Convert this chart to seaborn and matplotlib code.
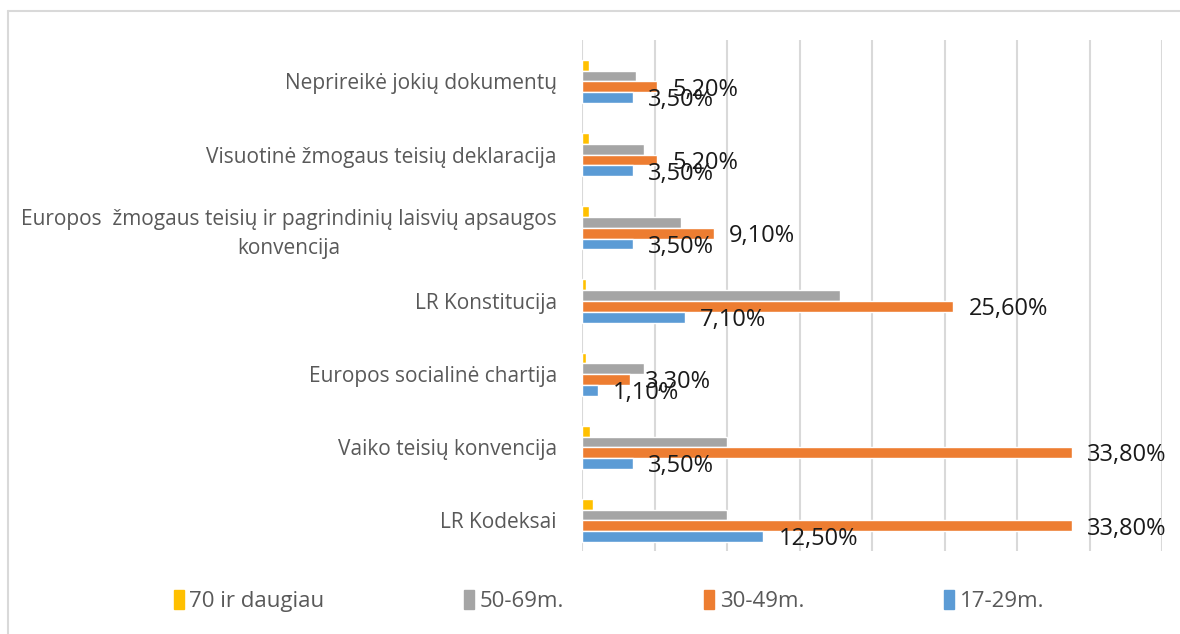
import pandas as pd
import numpy as np
import seaborn as sns
import matplotlib.pyplot as plt
from matplotlib.lines import Line2D

categories = [
    "Neprireikė jokių dokumentų",
    "Visuotinė žmogaus teisių deklaracija",
    "Europos  žmogaus teisių ir pagrindinių laisvių apsaugos\nkonvencija",
    "LR Konstitucija",
    "Europos socialinė chartija",
    "Vaiko teisių konvencija",
    "LR Kodeksai",
]
series = ["70 ir daugiau", "50-69m.", "30-49m.", "17-29m."]

age_70 = [0.5, 0.5, 0.5, 0.3, 0.3, 0.55, 0.75]
age_50_69 = [3.7, 4.3, 6.8, 17.8, 4.3, 10.0, 10.0]
age_30_49 = [5.2, 5.2, 9.1, 25.6, 3.3, 33.8, 33.8]
age_17_29 = [3.5, 3.5, 3.5, 7.1, 1.1, 3.5, 12.5]

colors = ["#FFC000", "#A5A5A5", "#ED7D31", "#5B9BD5"]
labelled = ["30-49m.", "17-29m."]

rows = []
for name, vals in zip(series, [age_70, age_50_69, age_30_49, age_17_29]):
    for cat, v in zip(categories, vals):
        rows.append({"Kategorija": cat, "Grupė": name, "Reikšmė": v})
df = pd.DataFrame(rows)

sns.set_style("white")
plt.rcParams['font.family'] = ['Open Sans', 'DejaVu Sans']

fig = plt.figure(figsize=(11.8, 6.34), dpi=100)
ax = fig.add_axes([582 / 1180, 1 - 551 / 634, 580 / 1180, 511 / 634])

sns.barplot(data=df, y="Kategorija", x="Reikšmė", hue="Grupė", order=categories,
            hue_order=series, palette=colors, orient="h", width=0.59,
            saturation=1, ax=ax, legend=False)

# data labels only for the two younger groups
for cont, name in zip(ax.containers, series):
    if name not in labelled:
        continue
    for bar in cont:
        w = bar.get_width()
        y = bar.get_y() + bar.get_height() / 2
        ax.annotate(f"{w:.2f}%".replace(".", ","), (w, y), xytext=(11, -2),
                    textcoords="offset points", ha="left", va="center",
                    fontsize=17, color="#1a1a1a", annotation_clip=False)

ax.set_xlim(0, 40)
ax.set_ylim(6.417, -0.567)
ax.set_xticks(np.arange(0, 41, 5))
ax.set_xticklabels([])
ax.grid(axis="x", color="#D9D9D9", linewidth=1.5)
ax.set_axisbelow(True)
for s in ax.spines.values():
    s.set_visible(False)
ax.tick_params(axis="x", length=0)
ax.tick_params(axis="y", length=0, pad=18, labelsize=15, labelcolor="#595959")
for lab in ax.get_yticklabels():
    lab.set_multialignment("center")
    lab.set_linespacing(1.45)
ax.set_xlabel("")
ax.set_ylabel("")

handles = [plt.Rectangle((0, 0), 1, 1, color=c) for c in colors]
fig.legend(handles, series, loc="center", bbox_to_anchor=(0.516, 1 - 601 / 634),
           ncol=4, frameon=False, fontsize=16, handlelength=0.45, handleheight=0.9,
           handletextpad=0.25, columnspacing=6.3, labelcolor="#595959")

# outer chart border (top and left visible)
fig.add_artist(Line2D([8 / 1180, 8 / 1180], [0, 1 - 11 / 634], transform=fig.transFigure,
                      color="#D9D9D9", linewidth=1.5))
fig.add_artist(Line2D([8 / 1180, 1], [1 - 11 / 634, 1 - 11 / 634], transform=fig.transFigure,
                      color="#D9D9D9", linewidth=1.5))

fig.savefig("out.png", dpi=100)
